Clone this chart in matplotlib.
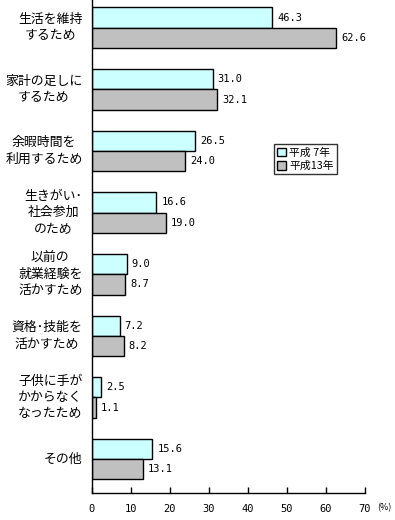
import matplotlib
matplotlib.use("Agg")
import matplotlib.pyplot as plt
from matplotlib.patches import Patch
import numpy as np

plt.rcParams['font.family'] = ['Noto Sans CJK JP', 'DejaVu Sans']

categories = ["生活を維持\nするため", "家計の足しに\nするため", "余暇時間を\n利用するため",
              "生きがい･\n社会参加\nのため", "以前の\n就業経験を\n活かすため",
              "資格･技能を\n活かすため", "子供に手が\nかからなく\nなったため", "その他"]
h7 = [46.3, 31.0, 26.5, 16.6, 9.0, 7.2, 2.5, 15.6]
h13 = [62.6, 32.1, 24.0, 19.0, 8.7, 8.2, 1.1, 13.1]
series_names = ["平成 7年", "平成13年"]
xticks = [0, 10, 20, 30, 40, 50, 60, 70]

W, H = 395, 520
fig = plt.figure(figsize=(W/100, H/100), dpi=100)
ax = fig.add_axes([91.5/W, 27/H, (365-91.5)/W, 493/H])

y = np.arange(len(categories))
bh = 0.33
c1, c2 = "#CCFFFF", "#C0C0C0"
ax.barh(y - 0.165, h7, height=bh, color=c1, edgecolor="black", linewidth=1.0)
ax.barh(y + 0.165, h13, height=bh, color=c2, edgecolor="black", linewidth=1.0)

for yi, v in zip(y, h7):
    ax.text(v + 1.3, yi - 0.165, f"{v:.1f}", va="center", ha="left",
            fontsize=7.5, family="DejaVu Sans Mono")
for yi, v in zip(y, h13):
    ax.text(v + 1.3, yi + 0.165, f"{v:.1f}", va="center", ha="left",
            fontsize=7.5, family="DejaVu Sans Mono")

ax.set_xlim(0, 70)
ax.set_ylim(len(categories) - 0.45, -0.45)
ax.set_xticks(xticks)
ax.set_xticklabels([str(t) for t in xticks], fontsize=7.5, family="DejaVu Sans Mono")
ax.set_yticks([])
ax.tick_params(axis="x", direction="in", length=4, width=1, pad=8)
for s in ["top", "right"]:
    ax.spines[s].set_visible(False)
for s in ["left", "bottom"]:
    ax.spines[s].set_linewidth(1.0)

for yi, lab in zip(y, categories):
    ax.text(-2.3, yi, lab, ha="right", va="center", multialignment="center",
            fontsize=9.3, linespacing=1.35, transform=ax.transData)

fig.text(384/W, 1 - 508/H, "(%)", fontsize=6.5, ha="center", va="center")

handles = [Patch(facecolor=c1, edgecolor="black"), Patch(facecolor=c2, edgecolor="black")]
leg = ax.legend(handles, series_names, loc="upper left",
                bbox_to_anchor=((274-91.5)/(365-91.5), 1 - (144)/493),
                fontsize=7.8, frameon=True, fancybox=False, handlelength=0.8,
                handleheight=0.8, handletextpad=0.3, borderpad=0.3, labelspacing=0.3,
                borderaxespad=0)
leg.get_frame().set_edgecolor("black")
leg.get_frame().set_linewidth(1.0)

fig.savefig("out.png", dpi=100)
